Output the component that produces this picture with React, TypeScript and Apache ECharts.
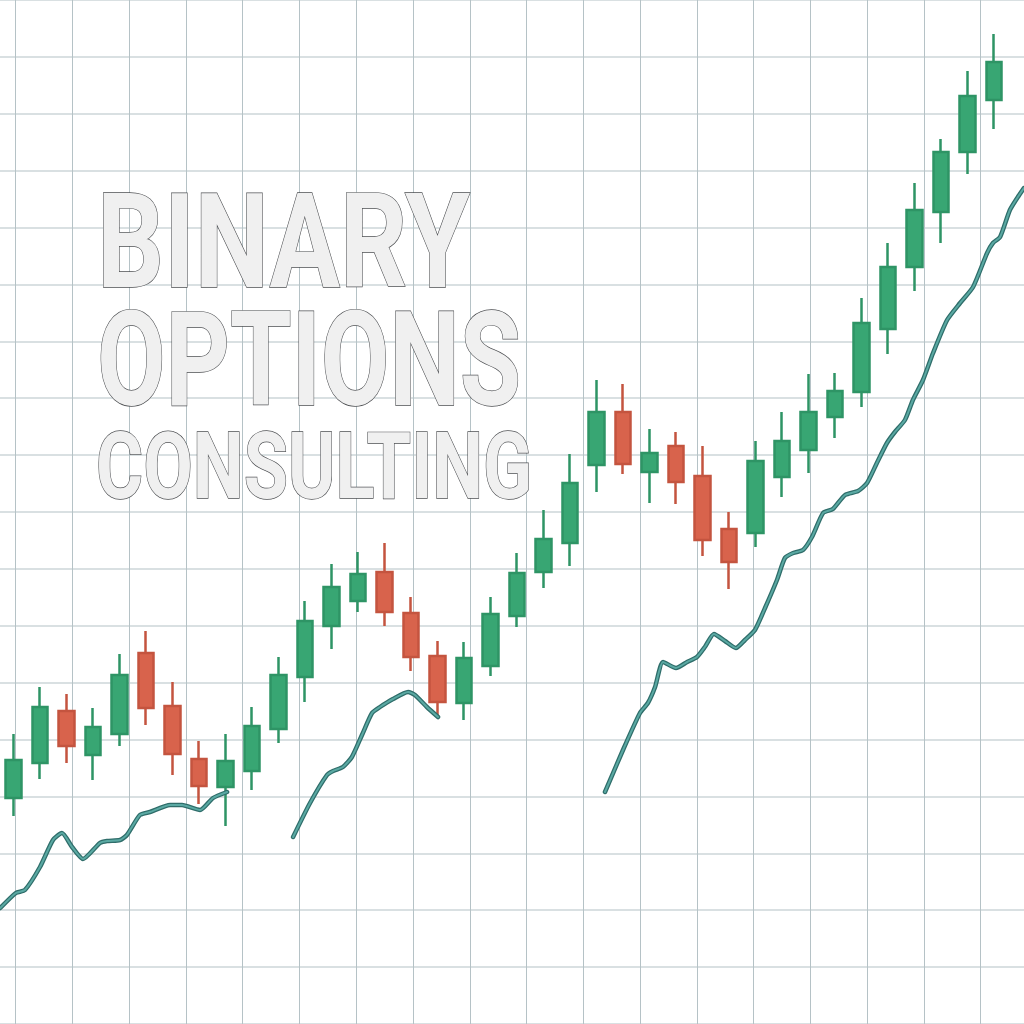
import React, { useEffect, useRef } from "react";
import * as echarts from "echarts";

// 38 trading sessions
const sessions = [
  "S1", "S2", "S3", "S4", "S5", "S6", "S7", "S8", "S9", "S10",
  "S11", "S12", "S13", "S14", "S15", "S16", "S17", "S18", "S19", "S20",
  "S21", "S22", "S23", "S24", "S25", "S26", "S27", "S28", "S29", "S30",
  "S31", "S32", "S33", "S34", "S35", "S36", "S37", "S38",
];

const opens = [226, 261, 313, 269, 290, 371, 318, 265, 237, 253, 295, 347, 398, 423, 452, 411, 368, 321, 358, 408, 452, 481, 559, 612, 552, 578, 548, 495, 491, 547, 574, 607, 632, 695, 757, 812, 872, 924];
const closes = [264, 317, 278, 297, 349, 316, 270, 238, 263, 298, 349, 403, 437, 450, 412, 367, 322, 366, 410, 451, 485, 541, 612, 560, 571, 542, 484, 462, 563, 583, 612, 633, 701, 757, 814, 872, 928, 962];
const lows = [208, 245, 261, 244, 278, 299, 249, 220, 198, 234, 281, 322, 375, 412, 398, 353, 306, 304, 348, 397, 436, 458, 532, 550, 521, 520, 468, 435, 477, 527, 551, 586, 617, 670, 733, 781, 850, 895];
const highs = [290, 337, 330, 316, 370, 393, 342, 283, 290, 317, 367, 423, 460, 472, 481, 427, 383, 382, 427, 471, 514, 570, 644, 640, 595, 592, 578, 512, 583, 612, 650, 651, 726, 781, 841, 885, 953, 990];

// trend line, three segments (position in session units, value)
const trendAPos = [-0.5, 0.09, 0.43, 1.0, 1.49, 1.83, 2.21, 2.62, 3.26, 3.53, 4.02, 4.28, 4.77, 5.15, 5.91, 6.36, 7.04, 7.53, 8.06];
const trendAVal = [116, 131, 134, 157, 184, 191, 177, 165, 181, 183, 184, 189, 209, 212, 219, 219, 214, 226, 232];
const trendBPos = [10.55, 11.19, 11.83, 12.06, 12.43, 12.77, 13.15, 13.53, 13.83, 14.32, 14.89, 15.15, 15.6, 16.02];
const trendBVal = [187, 221, 249, 253, 257, 267, 289, 311, 317, 325, 332, 329, 317, 307];
const trendCPos = [22.32, 23.0, 23.64, 23.94, 24.21, 24.51, 25.0, 25.42, 25.79, 26.09, 26.43, 26.85, 27.26, 27.6, 27.98, 28.36, 28.81, 29.11, 29.42, 29.79, 30.13, 30.55, 30.92, 31.38, 31.87, 32.21, 32.58, 32.96, 33.26, 33.64, 33.94, 34.32, 34.7, 35.23, 35.72, 36.21, 36.74, 36.96, 37.23, 37.6, 37.9, 38.13];
const trendCVal = [232, 274, 311, 321, 337, 362, 356, 362, 367, 377, 390, 383, 376, 384, 394, 416, 444, 466, 471, 474, 487, 511, 515, 529, 533, 541, 561, 581, 592, 604, 624, 644, 671, 704, 721, 737, 771, 781, 787, 814, 827, 836];

const titleLines = ["BINARY", "OPTIONS", "CONSULTING"];

function pairs(xs: number[], ys: number[]) {
  return xs.map((x, i) => [x, ys[i]]);
}

const hiddenAxis = {
  axisLine: { show: false },
  axisTick: { show: false },
  axisLabel: { show: false },
};

export default function App() {
  const ref = useRef<HTMLDivElement>(null);

  useEffect(() => {
    if (!ref.current) return;
    const chart = echarts.init(ref.current, undefined, { renderer: "svg" });

    const candleData = sessions.map((_, i) => [opens[i], closes[i], lows[i], highs[i]]);

    const trendSeries = [trendAPos, trendBPos, trendCPos].flatMap((pos, k) => {
      const vals = [trendAVal, trendBVal, trendCVal][k];
      const d = pairs(pos, vals);
      return [
        {
          type: "line",
          xAxisIndex: 1,
          yAxisIndex: 1,
          data: d,
          symbol: "none",
          smooth: 0.2,
          clip: false,
          lineStyle: { color: "#2f6d6a", width: 4.5, cap: "round", join: "round" },
          z: 4,
          silent: true,
        },
        {
          type: "line",
          xAxisIndex: 1,
          yAxisIndex: 1,
          data: d,
          symbol: "none",
          smooth: 0.2,
          clip: false,
          lineStyle: { color: "#5aa9a3", width: 2, cap: "round", join: "round" },
          z: 5,
          silent: true,
        },
      ];
    });

    const textStyle = (text: string, size: number) => ({
      text,
      fill: "#f0f0f0",
      stroke: "#4d4f52",
      lineWidth: 1.4,
      fontFamily: "Roboto",
      fontWeight: "bold",
      fontSize: size,
      align: "left",
      verticalAlign: "middle",
    });

    chart.setOption({
      animation: false,
      backgroundColor: "#ffffff",
      grid: [
        // candles
        { left: 0.25, width: 1007, top: 0, height: 1024 },
        // trend line (full width)
        { left: 0, width: 1024, top: 0, height: 1024 },
        // vertical grid lines
        { left: 15.7, width: 964.9, top: 0, height: 1024 },
        // horizontal grid lines
        { left: 0, width: 1024, top: -4.6, height: 1042.2 },
      ],
      xAxis: [
        { type: "category", data: sessions, gridIndex: 0, boundaryGap: true, show: false },
        { type: "value", gridIndex: 1, min: -0.5094, max: 38.132, show: false },
        {
          type: "value",
          gridIndex: 2,
          min: 0,
          max: 17,
          interval: 1,
          ...hiddenAxis,
          splitLine: { show: true, lineStyle: { color: "#b5c2c6", width: 1 } },
        },
        { type: "value", gridIndex: 3, min: 0, max: 1, show: false },
      ],
      yAxis: [
        { type: "value", gridIndex: 0, min: 0, max: 1024, show: false },
        { type: "value", gridIndex: 1, min: 0, max: 1024, show: false },
        { type: "value", gridIndex: 2, min: 0, max: 1, show: false },
        {
          type: "value",
          gridIndex: 3,
          min: 0,
          max: 18,
          interval: 1,
          ...hiddenAxis,
          splitLine: { show: true, lineStyle: { color: "#cdd6d9", width: 1.5 } },
        },
      ],
      graphic: [
        { type: "text", x: 97, y: 242, scaleX: 0.795, z: 1, style: textStyle(titleLines[0], 132) },
        { type: "text", x: 97, y: 360, scaleX: 0.755, z: 1, style: textStyle(titleLines[1], 132) },
        { type: "text", x: 96, y: 466, scaleX: 0.775, z: 1, style: textStyle(titleLines[2], 93) },
      ],
      series: [
        {
          type: "candlestick",
          xAxisIndex: 0,
          yAxisIndex: 0,
          data: candleData,
          barWidth: 16,
          z: 3,
          silent: true,
          itemStyle: {
            color: "#38a673",
            color0: "#d8634c",
            borderColor: "#2e9465",
            borderColor0: "#c4543f",
            borderWidth: 2.5,
          },
        },
        ...trendSeries,
      ],
    });

    return () => chart.dispose();
  }, []);

  return (
    <div
      ref={ref}
      style={{ position: "fixed", left: 0, top: 0, width: 1024, height: 1024, background: "#fff" }}
    />
  );
}
